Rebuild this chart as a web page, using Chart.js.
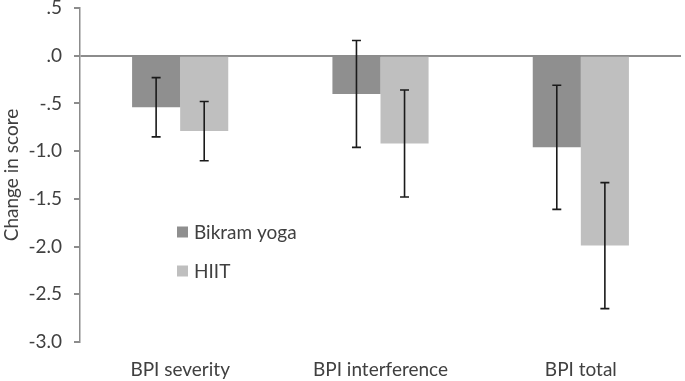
<!DOCTYPE html>
<html>
<head>
<meta charset="utf-8">
<script src="https://cdn.jsdelivr.net/npm/chart.js@4/dist/chart.umd.min.js"></script>
<style>
  html, body { margin: 0; padding: 0; background: #fff; }
  #wrap { width: 685px; height: 381px; }
</style>
</head>
<body>
<div id="wrap"><canvas id="myChart" width="685" height="381"></canvas></div>
<script>
const categories = ['BPI severity', 'BPI interference', 'BPI total'];
const seriesNames = ['Bikram yoga', 'HIIT'];
const bikram = [-0.54, -0.40, -0.96];
const bikramErr = [0.31, 0.56, 0.65];
const hiit = [-0.79, -0.92, -1.99];
const hiitErr = [0.31, 0.56, 0.66];
const yTicks = [0.5, 0, -0.5, -1, -1.5, -2, -2.5, -3];

const textColor = '#404040';
const axisColor = '#8c8c8c';
const font = { family: 'Lato, "Open Sans", sans-serif', size: 19 };

// error bars drawn from the value arrays through the y scale
const errorBars = {
  id: 'errorBars',
  afterDatasetsDraw(chart) {
    const ctx = chart.ctx;
    const y = chart.scales.y;
    chart.data.datasets.forEach((ds, i) => {
      const meta = chart.getDatasetMeta(i);
      meta.data.forEach((bar, j) => {
        const v = ds.data[j], e = ds.err[j];
        const top = y.getPixelForValue(v + e);
        const bot = y.getPixelForValue(v - e);
        ctx.save();
        ctx.strokeStyle = '#1a1a1a';
        ctx.lineWidth = 1.6;
        ctx.beginPath();
        ctx.moveTo(bar.x, top); ctx.lineTo(bar.x, bot);
        ctx.moveTo(bar.x - 4.5, top); ctx.lineTo(bar.x + 4.5, top);
        ctx.moveTo(bar.x - 4.5, bot); ctx.lineTo(bar.x + 4.5, bot);
        ctx.stroke();
        ctx.restore();
      });
    });
  }
};

// legend sitting inside the plot like the original
const innerLegend = {
  id: 'innerLegend',
  afterDraw(chart) {
    const ctx = chart.ctx;
    const left = chart.chartArea.left + 97;
    const rows = [232, 271];
    ctx.save();
    ctx.font = `${font.size}px ${font.family}`;
    ctx.textBaseline = 'middle';
    chart.data.datasets.forEach((ds, i) => {
      ctx.fillStyle = ds.backgroundColor;
      ctx.fillRect(left, rows[i] - 5.5, 11, 11);
      ctx.fillStyle = textColor;
      ctx.fillText(ds.label, left + 17, rows[i] + 1);
    });
    ctx.restore();
  }
};

new Chart(document.getElementById('myChart'), {
  type: 'bar',
  data: {
    labels: categories,
    datasets: [
      { label: seriesNames[0], data: bikram, err: bikramErr, backgroundColor: '#8f8f8f' },
      { label: seriesNames[1], data: hiit, err: hiitErr, backgroundColor: '#bfbfbf' }
    ]
  },
  options: {
    responsive: false,
    animation: false,
    layout: { padding: { left: 0, right: 4, top: 8, bottom: 0 } },
    datasets: { bar: { barPercentage: 1, categoryPercentage: 0.48 } },
    plugins: { legend: { display: false }, tooltip: { enabled: false } },
    scales: {
      x: {
        grid: { display: false, drawTicks: false },
        border: { display: false },
        ticks: { color: textColor, font: font, padding: 16 },
        afterFit(scale) { scale.height = 39; }
      },
      y: {
        min: -3, max: 0.5,
        afterBuildTicks(scale) { scale.ticks = yTicks.map(v => ({ value: v })); },
        afterFit(scale) { scale.width = 80; scale.paddingTop = 0; scale.paddingBottom = 0; },
        border: { display: true, color: axisColor, width: 1.5 },
        grid: {
          drawOnChartArea: true,
          color: c => (c.tick && c.tick.value === 0 ? axisColor : 'transparent'),
          lineWidth: 2,
          tickColor: axisColor,
          tickLength: 6
        },
        ticks: {
          color: textColor, font: font, padding: 12,
          callback: v => v.toFixed(1).replace(/^(-?)0\./, '$1.')
        },
        title: { display: true, text: 'Change in score', color: textColor, font: font, padding: 0 }
      }
    }
  },
  plugins: [errorBars, innerLegend]
});
</script>
</body>
</html>
